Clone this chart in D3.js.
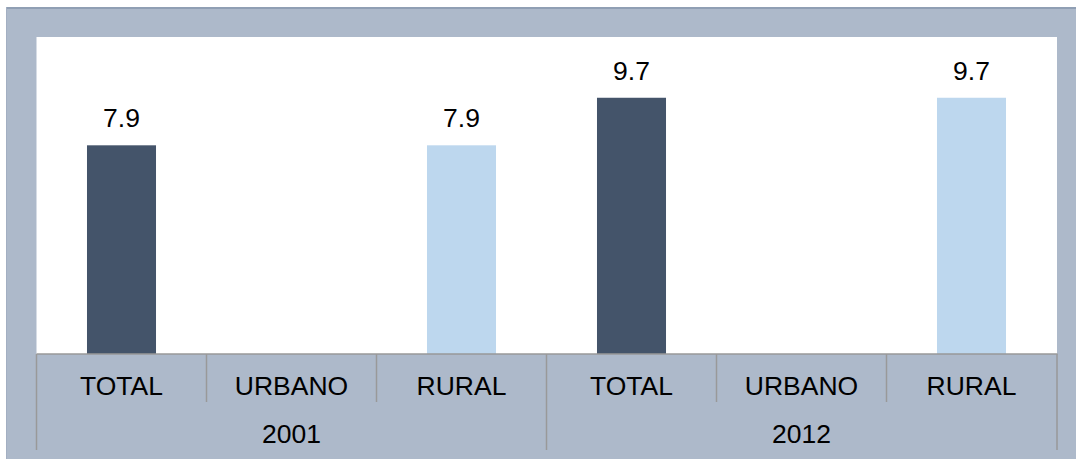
<!DOCTYPE html>
<html>
<head>
<meta charset="utf-8">
<script src="https://cdn.jsdelivr.net/npm/d3@7/dist/d3.min.js"></script>
<style>
  html, body { margin: 0; padding: 0; background: #ffffff; }
  svg { display: block; }
  text { font-family: "Liberation Sans", Arial, sans-serif; fill: #000; }
</style>
</head>
<body>
<svg id="chart" width="1076" height="459"></svg>
<script>
// Data
const years = ["2001", "2012"];
const categories = ["TOTAL", "URBANO", "RURAL"];
const values2001 = [7.9, null, 7.9];
const values2012 = [9.7, null, 9.7];
const categoryColors = { TOTAL: "#44546a", URBANO: "#8ea9db", RURAL: "#bdd7ee" };
const yDomain = [0, 12];

const seriesByYear = { "2001": values2001, "2012": values2012 };
const rows = [];
years.forEach(y => categories.forEach((c, i) => {
  rows.push({ key: y + "|" + c, year: y, category: c, value: seriesByYear[y][i] });
}));

const svg = d3.select("#chart");
const W = 1076, H = 459;
const fontSize = "26.5px";

// Outer frame
svg.append("rect").attr("x", 7).attr("y", 7).attr("width", W - 7).attr("height", H - 7)
  .attr("fill", "#adb9ca");
svg.append("rect").attr("x", 7).attr("y", 7).attr("width", W - 7).attr("height", 2)
  .attr("fill", "#909fb4");
svg.append("rect").attr("x", 6).attr("y", 7).attr("width", 1).attr("height", H - 7)
  .attr("fill", "#a3afc2");

// Plot area
const plot = { left: 36.5, right: 1056.5, top: 37, bottom: 354 };
svg.append("rect")
  .attr("x", plot.left).attr("y", plot.top)
  .attr("width", plot.right - plot.left + 0.5).attr("height", plot.bottom - plot.top)
  .attr("fill", "#ffffff");

const x = d3.scaleBand()
  .domain(rows.map(d => d.key))
  .range([plot.left, plot.right])
  .paddingInner(0.594)
  .paddingOuter(0.297);
const step = x.step();

const y = d3.scaleLinear().domain(yDomain).range([plot.bottom, plot.top]);

// Bars
const withValue = rows.filter(d => d.value != null);
svg.append("g").selectAll("rect").data(withValue).join("rect")
  .attr("x", d => x(d.key))
  .attr("y", d => y(d.value))
  .attr("width", x.bandwidth())
  .attr("height", d => y(0) - y(d.value))
  .attr("fill", d => categoryColors[d.category]);

// Value labels
svg.append("g").selectAll("text").data(withValue).join("text")
  .attr("x", d => x(d.key) + x.bandwidth() / 2)
  .attr("y", d => y(d.value) - 18)
  .attr("text-anchor", "middle")
  .attr("font-size", fontSize)
  .text(d => d.value.toFixed(1));

// Category axis
const axisG = svg.append("g");
axisG.append("line")
  .attr("x1", plot.left).attr("x2", plot.right + 1)
  .attr("y1", plot.bottom).attr("y2", plot.bottom)
  .attr("stroke", "#999999").attr("stroke-width", 1.5);

// Separators between categories (long ones between year groups)
const boundaries = d3.range(rows.length + 1);
axisG.selectAll("line.sep").data(boundaries).join("line")
  .attr("class", "sep")
  .attr("x1", i => plot.left + i * step + (i === rows.length ? 0.5 : 0))
  .attr("x2", i => plot.left + i * step + (i === rows.length ? 0.5 : 0))
  .attr("y1", plot.bottom)
  .attr("y2", i => (i % categories.length === 0) ? 450 : 402)
  .attr("stroke", "#999999").attr("stroke-width", 1.5);

axisG.selectAll("text.cat").data(rows).join("text")
  .attr("class", "cat")
  .attr("x", d => x(d.key) + x.bandwidth() / 2)
  .attr("y", 395)
  .attr("text-anchor", "middle")
  .attr("font-size", fontSize)
  .text(d => d.category);

axisG.selectAll("text.year").data(years).join("text")
  .attr("class", "year")
  .attr("x", (yr, i) => plot.left + (i + 0.5) * categories.length * step)
  .attr("y", 443)
  .attr("text-anchor", "middle")
  .attr("font-size", fontSize)
  .text(d => d);
</script>
</body>
</html>
